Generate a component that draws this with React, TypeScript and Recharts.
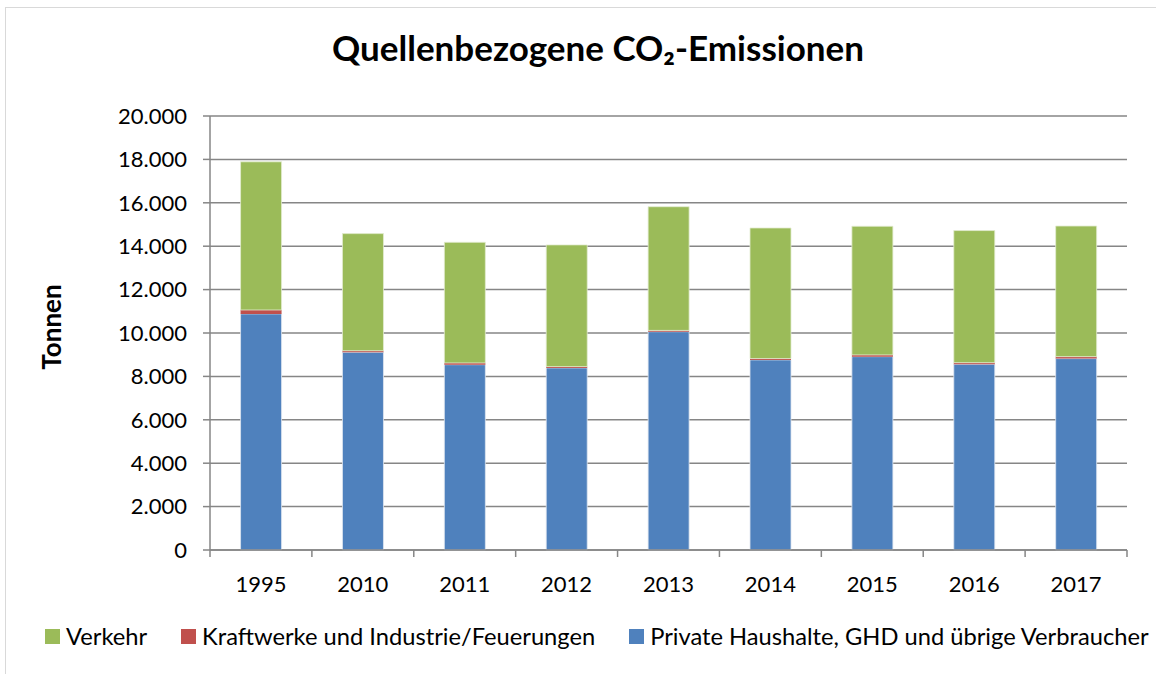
import { BarChart, Bar, XAxis, YAxis, CartesianGrid } from 'recharts';

const YEARS = ['1995', '2010', '2011', '2012', '2013', '2014', '2015', '2016', '2017'];
const PRIVATE = [10880, 9110, 8540, 8390, 10060, 8760, 8910, 8560, 8820];
const KRAFTWERKE = [180, 70, 80, 60, 60, 60, 80, 70, 90];
const VERKEHR = [6830, 5400, 5560, 5610, 5700, 6020, 5930, 6090, 6020];
const Y_TICKS = [0, 2000, 4000, 6000, 8000, 10000, 12000, 14000, 16000, 18000, 20000];

const SERIES = [
  { key: 'verkehr', name: 'Verkehr', color: '#9BBB59' },
  { key: 'kraftwerke', name: 'Kraftwerke und Industrie/Feuerungen', color: '#C0504D' },
  { key: 'private', name: 'Private Haushalte, GHD und übrige Verbraucher', color: '#4F81BD' },
];

const data = YEARS.map((year, i) => ({
  year,
  private: PRIVATE[i],
  kraftwerke: KRAFTWERKE[i],
  verkehr: VERKEHR[i],
}));

const W = 1156;
const H = 674;
const margin = { top: 116, right: 29, left: 0, bottom: 0 };
const Y_AXIS_W = 210;
const STEP = (W - Y_AXIS_W - margin.right) / YEARS.length;
const FONT = 'Lato, "Liberation Sans", sans-serif';
const AXIS_GRAY = '#868686';

const fmt = (v: number) => String(v).replace(/\B(?=(\d{3})+(?!\d))/g, '.');

function YearTick({ x, y, payload, index }: any) {
  const left = x - STEP / 2;
  return (
    <g>
      <line x1={left} y1={y} x2={left} y2={y + 7} stroke={AXIS_GRAY} strokeWidth={1.5} />
      {index === YEARS.length - 1 && (
        <line x1={x + STEP / 2} y1={y} x2={x + STEP / 2} y2={y + 7} stroke={AXIS_GRAY} strokeWidth={1.5} />
      )}
      <text x={x} y={y + 42} textAnchor="middle" fontSize={22} fill="#000" fontFamily={FONT}>
        {payload.value}
      </text>
    </g>
  );
}

export default function App() {
  return (
    <div style={{ position: 'absolute', left: 0, top: 0, width: W, height: H, overflow: 'hidden', background: '#fff', fontFamily: FONT }}>
      <div style={{ position: 'absolute', left: 5, top: 7, width: W + 20, height: H + 20, borderLeft: '1.5px solid #d9d9d9', borderTop: '1.5px solid #d9d9d9' }} />
      <div style={{ position: 'absolute', left: 0, top: 26, width: 1196, textAlign: 'center', fontSize: 35, fontWeight: 700, color: '#000' }}>
        Quellenbezogene CO₂-Emissionen
      </div>
      <BarChart width={W} height={H} data={data} margin={margin} barCategoryGap="30%">
        <CartesianGrid vertical={false} stroke={AXIS_GRAY} strokeWidth={1.5} />
        <XAxis
          dataKey="year"
          height={124}
          axisLine={{ stroke: AXIS_GRAY, strokeWidth: 1.5 }}
          tickLine={false}
          tickSize={0}
          tickMargin={0}
          tick={<YearTick />}
          interval={0}
        />
        <YAxis
          width={Y_AXIS_W}
          domain={[0, 20000]}
          ticks={Y_TICKS}
          tickFormatter={fmt}
          axisLine={{ stroke: AXIS_GRAY, strokeWidth: 1.5 }}
          tickLine={{ stroke: AXIS_GRAY, strokeWidth: 1.5 }}
          tickSize={7}
          tickMargin={16}
          tick={{ fontSize: 22, fill: '#000', fontFamily: FONT }}
          label={{ value: 'Tonnen', angle: -90, position: 'insideLeft', offset: 52, dy: -6, style: { fontSize: 26, fontWeight: 700, fill: '#000', fontFamily: FONT, textAnchor: 'middle' } }}
        />
        <Bar dataKey="private" name={SERIES[2].name} stackId="a" fill={SERIES[2].color} stroke="#dfe6f0" strokeWidth={0.8} isAnimationActive={false} />
        <Bar dataKey="kraftwerke" name={SERIES[1].name} stackId="a" fill={SERIES[1].color} isAnimationActive={false} />
        <Bar dataKey="verkehr" name={SERIES[0].name} stackId="a" fill={SERIES[0].color} stroke="#e3ecd2" strokeWidth={0.8} isAnimationActive={false} />
      </BarChart>
      <div style={{ position: 'absolute', left: 45, top: 622, display: 'flex', alignItems: 'center', fontSize: 23.7, color: '#000', whiteSpace: 'nowrap' }}>
        {SERIES.map((s) => (
          <div key={s.key} style={{ display: 'flex', alignItems: 'center', marginRight: 34 }}>
            <span style={{ display: 'inline-block', width: 15, height: 15, background: s.color, marginRight: 6 }} />
            <span>{s.name}</span>
          </div>
        ))}
      </div>
    </div>
  );
}
